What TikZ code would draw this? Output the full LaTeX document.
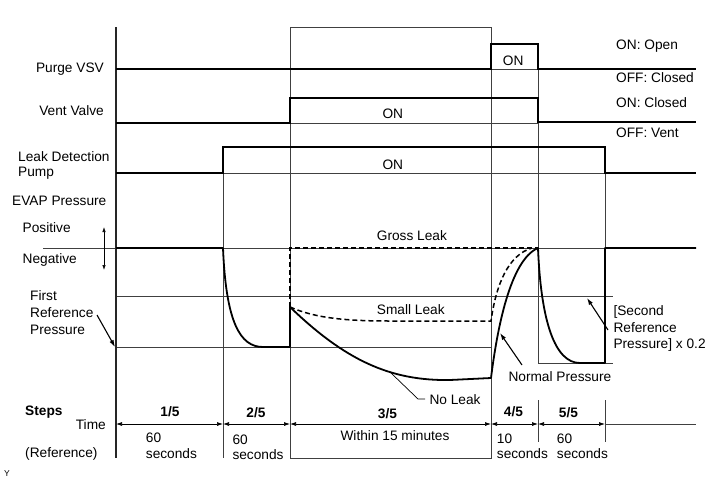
\documentclass[tikz,border=0pt]{standalone}
\usepackage{fontspec}
\setmainfont{Liberation Sans}
\usetikzlibrary{arrows.meta}
\begin{document}
\begin{tikzpicture}[x=1pt,y=-1pt,
  gridln/.style={line width=0.7pt, black!75},
  axisln/.style={line width=1.3pt, black!85},
  sigln/.style={line width=1.8pt, line join=miter},
  dashln/.style={line width=1.5pt, dash pattern=on 5pt off 3pt},
  ptr/.style={line width=1.1pt, -{Latex[length=7pt,width=4.5pt]}},
  tarr/.style={line width=0.7pt, {Latex[length=6pt,width=4pt]}-{Latex[length=6pt,width=4pt]}},
  lbl/.style={font=\fontsize{13.7}{16}\selectfont, inner sep=0pt, anchor=base west, align=left},
  lblr/.style={lbl, anchor=base east, align=right},
  lblc/.style={lbl, anchor=base, align=center},
  blbl/.style={lblc, font=\fontsize{13.7}{16}\selectfont\bfseries},
]
\useasboundingbox (0,0) rectangle (711,479);

% grid
\draw[gridln] (290,27) rectangle (491,458);
\draw[gridln] (223,147) -- (223,458);
\draw[gridln] (538,44) -- (538,363) (538,400) -- (538,442);
\draw[gridln] (605,147) -- (605,363) (605,400) -- (605,442);
\draw[gridln] (491,69) -- (538,69);
\draw[gridln] (290,123) -- (538,123);
\draw[gridln] (223,173) -- (605,173);
\draw[gridln] (43,248) -- (696,248);
\draw[gridln] (116,296) -- (613,296);
\draw[gridln] (116,347) -- (491,347);
\draw[gridln] (538,363) -- (613,363);
\draw[axisln] (116,27) -- (116,458);

% time line
\draw[gridln] (605,424) -- (696,424);
\coordinate (t0) at (116,424);
\coordinate (t1) at (223,424);
\coordinate (t2) at (290,424);
\coordinate (t3) at (491,424);
\coordinate (t4) at (538,424);
\coordinate (t5) at (605,424);
\draw[tarr] (t0) -- (t1);
\draw[tarr] (t1) -- (t2);
\draw[tarr] (t2) -- (t3);
\draw[tarr] (t3) -- (t4);
\draw[tarr] (t4) -- (t5);

% signals
\draw[sigln] (116,69) -- (491,69) -- (491,44) -- (538,44) -- (538,69) -- (696,69);
\draw[sigln] (116,123) -- (290,123) -- (290,98) -- (538,98) -- (538,122) -- (696,122);
\draw[sigln] (116,173) -- (223,173) -- (223,147) -- (605,147) -- (605,173) -- (696,173);

% EVAP pressure
\draw[sigln, line join=round] (116,248) -- (223,248) .. controls (226,322) and (240,347) .. (263,347) -- (290,347) -- (290,307);
\draw[sigln, line join=round] (290,307) .. controls (345,360) and (390,381) .. (450,380) -- (491,378)
   .. controls (497,330) and (510,260) .. (538,248)
   .. controls (541,322) and (555,363) .. (580,363) -- (605,363) -- (605,248) -- (696,248);
\draw[dashln] (290,307) -- (290,248) -- (538,248);
\draw[dashln] (290,307) .. controls (315,318) and (345,321) .. (390,321) -- (491,321)
   .. controls (496,285) and (508,255) .. (532,248);

% pointers
\draw[gridln, black] (390,372) -- (418,399) -- (425,399);
\coordinate (fr1) at (97,315);  \coordinate (fr2) at (115,347);
\coordinate (np1) at (522,365); \coordinate (np2) at (500,333);
\coordinate (sr1) at (608,330); \coordinate (sr2) at (587,298);
\draw[ptr] (fr1) -- (fr2);
\draw[ptr] (np1) -- (np2);
\draw[ptr] (sr1) -- (sr2);
\coordinate (pn1) at (104,227); \coordinate (pn2) at (104,270);
\draw[line width=0.7pt, {Latex[length=5pt,width=3.5pt]}-{Latex[length=5pt,width=3.5pt]}] (pn1) -- (pn2);

% left labels
\node[lblr] (purge) at (104,72.7) {Purge VSV};
\node[lblr] (vent) at (104,115) {Vent Valve};
\node[lbl, font=\fontsize{13.7}{15}\selectfont] (pump) at (18,176) {Leak Detection\\Pump};
\node[lbl] (evap) at (12,205) {EVAP Pressure};
\node[lbl] (pos) at (22.5,232) {Positive};
\node[lbl] (neg) at (22.5,263) {Negative};
\node[lbl, font=\fontsize{13.7}{17}\selectfont] (first) at (30,334) {First\\Reference\\Pressure};

% on labels
\node[lbl] (on1) at (502.7,65.7) {ON};
\node[lbl] (on2) at (382.3,118.3) {ON};
\node[lbl] (on3) at (382.3,169.3) {ON};

% right labels
\node[lbl] (r1) at (616,49) {ON: Open};
\node[lbl] (r2) at (616,82.3) {OFF: Closed};
\node[lbl] (r3) at (616,107.3) {ON: Closed};
\node[lbl] (r4) at (616,137.3) {OFF: Vent};

% curve labels
\node[lbl] (gross) at (376.7,240.7) {Gross Leak};
\node[lbl] (small) at (376.7,314) {Small Leak};
\node[lbl] (noleak) at (429.3,404) {No Leak};
\node[lbl] (normal) at (508.3,381.7) {Normal Pressure};
\node[lbl, font=\fontsize{13.7}{16.2}\selectfont] (second) at (613.3,348.3) {[Second\\Reference\\Pressure] x 0.2};

% steps
\node[lbl, font=\fontsize{13.7}{16}\selectfont\bfseries] (steps) at (25,415.7) {Steps};
\node[lblr] (time) at (106,429) {Time};
\node[lbl] (ref) at (25,457) {(Reference)};
\node[blbl] (s1) at (170,416.7) {1/5};
\node[blbl] (s2) at (256,417.3) {2/5};
\node[blbl] (s3) at (387.5,418) {3/5};
\node[blbl] (s4) at (513.5,416.5) {4/5};
\node[blbl] (s5) at (568.5,417) {5/5};
\node[lbl, font=\fontsize{13.7}{15.7}\selectfont] (d1) at (145.7,458.3) {60\\seconds};
\node[lbl, font=\fontsize{13.7}{15.7}\selectfont] (d2) at (232.3,459.7) {60\\seconds};
\node[lblc] (d3) at (395,440) {Within 15 minutes};
\node[lbl, font=\fontsize{13.7}{15.2}\selectfont] (d4) at (496.7,458.3) {10\\seconds};
\node[lbl, font=\fontsize{13.7}{15.3}\selectfont] (d5) at (556.7,458.3) {60\\seconds};

\node[lbl, font=\fontsize{8.5}{10}\selectfont] (y) at (4,476) {Y};
\end{tikzpicture}
\end{document}
